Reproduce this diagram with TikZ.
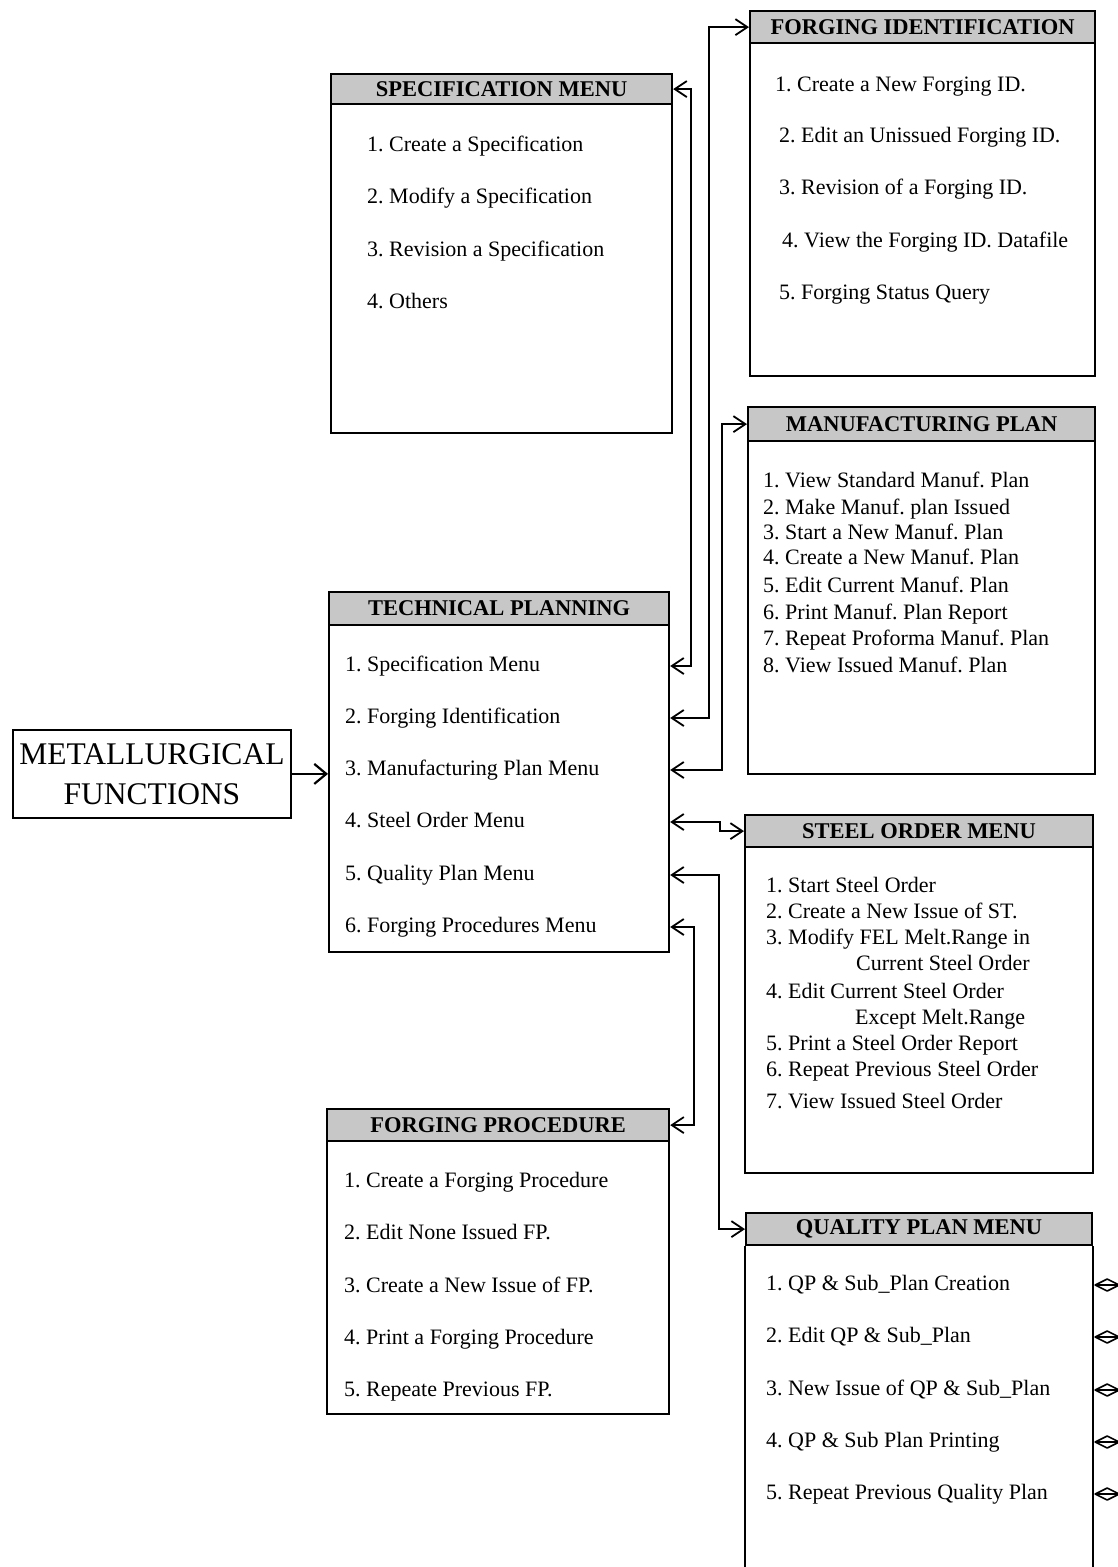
\documentclass[tikz,border=0pt]{standalone}
\usepackage{fontspec}
\setmainfont{Liberation Serif}
\usetikzlibrary{arrows.meta}
\frenchspacing
\begin{document}
\begin{tikzpicture}[x=1pt,y=-1pt,
  hdr/.style={draw=black, line width=2.2pt, fill=black!22, inner sep=0pt, anchor=north west,
    font=\fontsize{22.5}{26}\selectfont\bfseries},
  bodybox/.style={draw=black, line width=2.2pt, inner sep=0pt, anchor=north west},
  item/.style={anchor=base west, inner sep=0pt, text height=15pt, text depth=5pt,
    font=\fontsize{22}{26}\selectfont},
  conn/.style={line width=1.8pt, {Straight Barb[length=12pt,width=16pt]}-{Straight Barb[length=12pt,width=16pt]}},
  arr/.style={line width=2.2pt, -{Straight Barb[length=12pt,width=20pt]}},
  dia/.style={line width=1.6pt, line join=round},
]
\useasboundingbox (0,0) rectangle (1118,1567);
\coordinate (bot) at (0,1567);

% ---------- METALLURGICAL FUNCTIONS ----------
\node[draw=black, line width=1.8pt, anchor=north west, minimum width=278pt, minimum height=88pt,
  inner sep=0pt, align=center, font=\fontsize{31.5}{40}\selectfont] (met) at (12,729)
  {METALLURGICAL\\FUNCTIONS};

% ---------- SPECIFICATION MENU ----------
\node[hdr, minimum width=341pt, minimum height=30pt] (spech) at (330,73) {SPECIFICATION MENU};
\node[bodybox, minimum width=341pt, minimum height=329pt] (spec) at (330,103) {};
\node[item] (s1) at (367,151) {1. Create a Specification};
\node[item] (s2) at (367,203) {2. Modify a Specification};
\node[item] (s3) at (367,256) {3. Revision a Specification};
\node[item] (s4) at (367,308) {4. Others};

% ---------- FORGING IDENTIFICATION ----------
\node[hdr, minimum width=345pt, minimum height=32pt] (fih) at (749,10) {FORGING IDENTIFICATION};
\node[bodybox, minimum width=345pt, minimum height=333pt] (fi) at (749,42) {};
\node[item] (f1) at (775,91) {1. Create a New Forging ID.};
\node[item] (f2) at (779,142) {2. Edit an Unissued Forging ID.};
\node[item] (f3) at (779,194) {3. Revision of a Forging ID.};
\node[item] (f4) at (782,247) {4. View the Forging ID. Datafile};
\node[item] (f5) at (779,299) {5. Forging Status Query};

% ---------- MANUFACTURING PLAN ----------
\node[hdr, minimum width=347pt, minimum height=34pt] (mph) at (747,406) {MANUFACTURING PLAN};
\node[bodybox, minimum width=347pt, minimum height=333pt] (mp) at (747,440) {};
\node[item] (m1) at (763,487) {1. View Standard Manuf. Plan};
\node[item] (m2) at (763,514) {2. Make Manuf. plan Issued};
\node[item] (m3) at (763,539) {3. Start a New Manuf. Plan};
\node[item] (m4) at (763,564) {4. Create a New Manuf. Plan};
\node[item] (m5) at (763,592) {5. Edit Current Manuf. Plan};
\node[item] (m6) at (763,619) {6. Print Manuf. Plan Report};
\node[item] (m7) at (763,645) {7. Repeat Proforma Manuf. Plan};
\node[item] (m8) at (763,672) {8. View Issued Manuf. Plan};

% ---------- TECHNICAL PLANNING ----------
\node[hdr, minimum width=340pt, minimum height=33pt] (tph) at (328,591) {TECHNICAL PLANNING};
\node[bodybox, minimum width=340pt, minimum height=327pt] (tech) at (328,624) {};
\node[item] (t1) at (345,671) {1. Specification Menu};
\node[item] (t2) at (345,723) {2. Forging Identification};
\node[item] (t3) at (345,775) {3. Manufacturing Plan Menu};
\node[item] (t4) at (345,827) {4. Steel Order Menu};
\node[item] (t5) at (345,880) {5. Quality Plan Menu};
\node[item] (t6) at (345,932) {6. Forging Procedures Menu};

% ---------- STEEL ORDER MENU ----------
\node[hdr, minimum width=348pt, minimum height=32pt] (soh) at (744,814) {STEEL ORDER MENU};
\node[bodybox, minimum width=348pt, minimum height=326pt] (so) at (744,846) {};
\node[item] (o1) at (766,892) {1. Start Steel Order};
\node[item] (o2) at (766,918) {2. Create a New Issue of ST.};
\node[item] (o3) at (766,944) {3. Modify FEL Melt.Range in};
\node[item] (o4) at (856,970) {Current Steel Order};
\node[item] (o5) at (766,998) {4. Edit Current Steel Order};
\node[item] (o6) at (855,1024) {Except Melt.Range};
\node[item] (o7) at (766,1050) {5. Print a Steel Order Report};
\node[item] (o8) at (766,1076) {6. Repeat Previous Steel Order};
\node[item] (o9) at (766,1108) {7. View Issued Steel Order};

% ---------- FORGING PROCEDURE ----------
\node[hdr, minimum width=342pt, minimum height=32pt] (fph) at (326,1108) {FORGING PROCEDURE};
\node[bodybox, minimum width=342pt, minimum height=273pt] (fp) at (326,1140) {};
\node[item] (p1) at (344,1187) {1. Create a Forging Procedure};
\node[item] (p2) at (344,1239) {2. Edit None Issued FP.};
\node[item] (p3) at (344,1292) {3. Create a New Issue of FP.};
\node[item] (p4) at (344,1344) {4. Print a Forging Procedure};
\node[item] (p5) at (344,1396) {5. Repeate Previous FP.};

% ---------- QUALITY PLAN MENU ----------
\node[hdr, minimum width=346pt, minimum height=32pt] (qph) at (745,1212) {QUALITY PLAN MENU};
\draw[line width=2.2pt] (qph.south west) -- (qph.south west |- bot);
\draw[line width=2.2pt] (qph.south east) -- (qph.south east |- bot);
\node[item] (q1) at (766,1290) {1. QP \& Sub\_Plan Creation};
\node[item] (q2) at (766,1342) {2. Edit QP \& Sub\_Plan};
\node[item] (q3) at (766,1395) {3. New Issue of QP \& Sub\_Plan};
\node[item] (q4) at (766,1447) {4. QP \& Sub Plan Printing};
\node[item] (q5) at (766,1499) {5. Repeat Previous Quality Plan};

% ---------- connectors ----------
\coordinate (v1) at (691,0);
\coordinate (v2) at (709,0);
\coordinate (v3) at (722,0);
\coordinate (v4) at (720,0);
\coordinate (v5) at (719,0);
\coordinate (v6) at (694,0);

\draw[arr] (met.east) -- (met.east -| tech.west);
\draw[conn] (tech.east |- t1) -- (v1 |- t1) |- (spech.east);
\draw[conn] (tech.east |- t2) -- (v2 |- t2) |- (fih.west);
\draw[conn] (tech.east |- t3) -- (v3 |- t3) |- (mph.west);
\draw[conn] (tech.east |- t4) -- (v4 |- t4) |- (soh.west);
\draw[conn] (tech.east |- t5) -- (v5 |- t5) |- (qph.west);
\draw[conn] (tech.east |- t6) -- (v6 |- t6) |- (fph.east);

% ---------- small double-headed ends on the quality plan ----------
\foreach \q in {q1,q2,q3,q4,q5} {
  \draw[dia] (qph.east |- \q) ++(2,0) -- ++(12,-6) -- ++(12,6) -- ++(-12,6) -- cycle;
  \draw[dia] (qph.east |- \q) ++(2,0) -- ++(24,0);
}
\end{tikzpicture}
\end{document}
